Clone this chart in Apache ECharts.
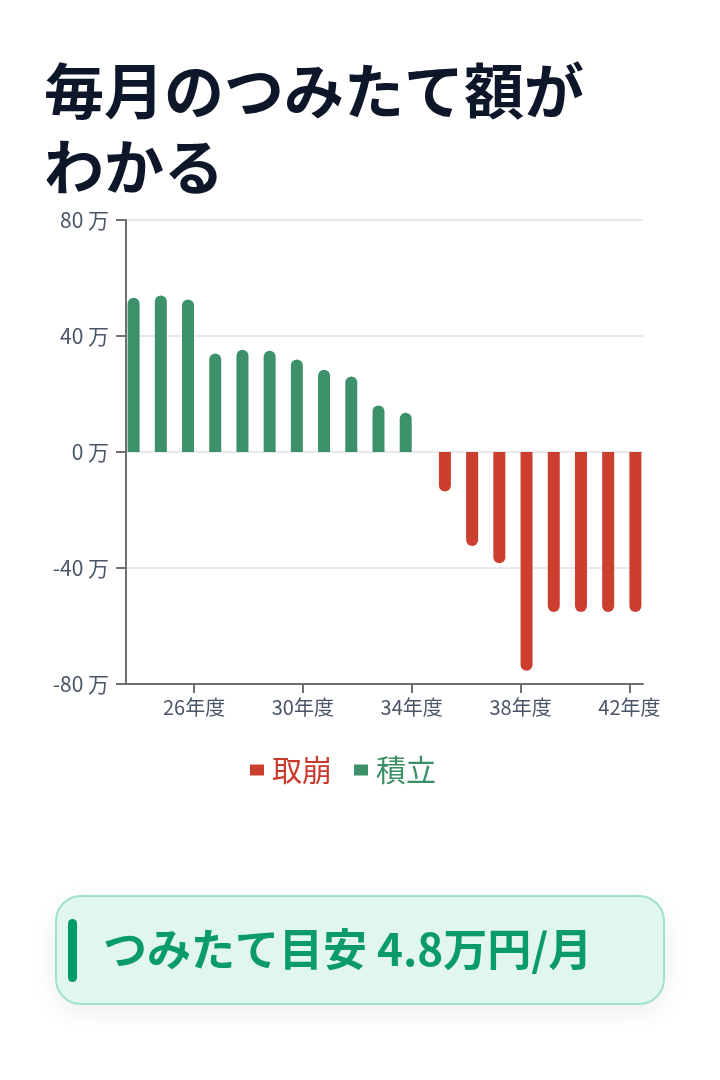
<!DOCTYPE html>
<html>
<head>
<meta charset="utf-8">
<script src="https://cdn.jsdelivr.net/npm/echarts@6/dist/echarts.min.js"></script>
<style>
  html, body { margin: 0; padding: 0; background: #ffffff; }
  body { width: 720px; height: 1080px; position: relative; overflow: hidden; font-family: "Noto Sans CJK JP", "Noto Sans", sans-serif; }
  #title { position: absolute; left: 44px; top: 50px; font-size: 60px; line-height: 76px; font-weight: 700; color: #0e1629; margin: 0; white-space: pre; }
  #chart { position: absolute; left: 0; top: 0; width: 720px; height: 1080px; }
  #box { position: absolute; left: 55px; top: 895px; width: 606px; height: 106px; border: 2px solid #9fe2c8; border-radius: 26px; background: #e1f6ee; box-shadow: 0 8px 26px rgba(0,0,0,0.07); }
  #bar { position: absolute; left: 11px; top: 22px; width: 9px; height: 63px; border-radius: 5px; background: #009b69; }
  #boxtext { position: absolute; left: 46px; top: -3px; height: 106px; line-height: 106px; font-size: 44px; font-weight: 700; color: #0a9a6b; white-space: nowrap; }
</style>
</head>
<body>
<div id="chart"></div>
<div id="title">毎月のつみたて額が
わかる</div>
<div id="box"><div id="bar"></div><div id="boxtext">つみたて目安 4.8万円/月</div></div>
<script>
const years = ['24年度','25年度','26年度','27年度','28年度','29年度','30年度','31年度','32年度','33年度','34年度','35年度','36年度','37年度','38年度','39年度','40年度','41年度','42年度'];
const tsumitate = [53.2, 54.0, 52.6, 34.0, 35.3, 34.9, 31.9, 28.4, 26.0, 16.0, 13.5, null, null, null, null, null, null, null, null];
const torikuzushi = [null, null, null, null, null, null, null, null, null, null, null, -13.6, -32.4, -38.4, -75.4, -55.2, -55.2, -55.2, -55.2];
const yTicks = { min: -80, max: 80, interval: 40 };
const seriesNames = ['取崩', '積立'];

const green = '#3d916a';
const red = '#cc3e2e';
const labelColor = '#4a5568';
const showIdx = (i) => i % 4 === 2;

const chart = echarts.init(document.getElementById('chart'), null, { renderer: 'canvas' });
chart.setOption({
  animation: false,
  textStyle: { fontFamily: '"Noto Sans CJK JP", "Noto Sans", sans-serif' },
  grid: { left: 126, right: 77, top: 220, bottom: 396, containLabel: false },
  legend: {
    data: [
      { name: seriesNames[0], textStyle: { color: '#c93b2d' } },
      { name: seriesNames[1], textStyle: { color: '#3a8f64' } }
    ],
    left: 245, top: 750,
    icon: 'rect', itemWidth: 14, itemHeight: 11, itemGap: 22,
    textStyle: { fontSize: 30, padding: [0, 0, 0, 3] }
  },
  xAxis: {
    type: 'category',
    data: years,
    axisLine: { onZero: false, lineStyle: { color: '#6f6f6f', width: 2 } },
    axisTick: { show: true, alignWithLabel: true, interval: showIdx, length: 9, lineStyle: { color: '#6f6f6f', width: 2 } },
    axisLabel: { interval: showIdx, fontSize: 20, color: labelColor, margin: 13 },
    splitLine: { show: false }
  },
  yAxis: {
    type: 'value',
    min: yTicks.min, max: yTicks.max, interval: yTicks.interval,
    axisLine: { show: true, lineStyle: { color: '#6f6f6f', width: 2 } },
    axisTick: { show: true, length: 10, lineStyle: { color: '#6f6f6f', width: 2 } },
    axisLabel: { formatter: '{value} 万', fontSize: 21, color: labelColor, margin: 17 },
    splitLine: { show: true, lineStyle: { color: '#e6e9f0', width: 2 } }
  },
  series: [
    {
      name: seriesNames[1], type: 'bar', data: tsumitate, barWidth: 12, barGap: '0%',
      itemStyle: { color: green, borderRadius: [6, 6, 0, 0] }
    },
    {
      name: seriesNames[0], type: 'bar', data: torikuzushi, barWidth: 12, barGap: '0%',
      itemStyle: { color: red, borderRadius: [0, 0, 6, 6] }
    }
  ]
});
</script>
</body>
</html>
